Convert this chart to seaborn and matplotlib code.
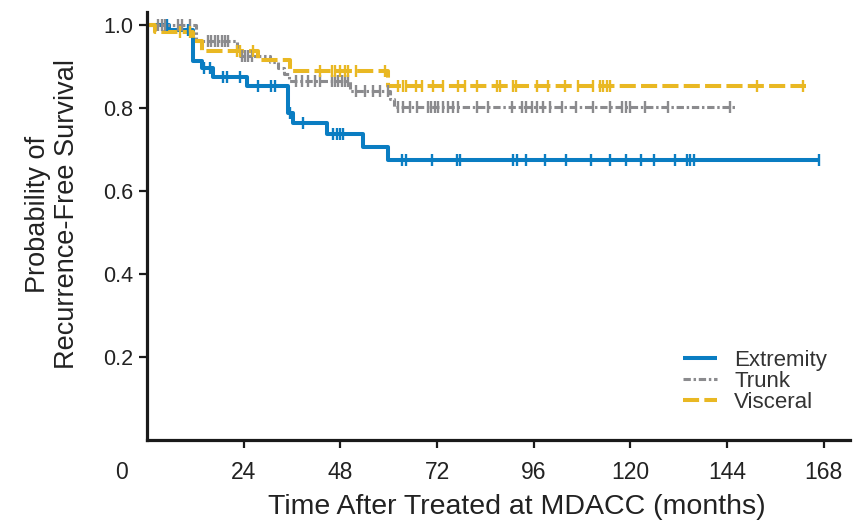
import numpy as np
import pandas as pd
import matplotlib
matplotlib.use("Agg")
import matplotlib.pyplot as plt
import matplotlib.transforms as mtransforms
import seaborn as sns

# ---- data ----
groups = ["Extremity", "Trunk", "Visceral"]

ext_times = [0, 5.5, 11.4, 13.6, 16.5, 24.7, 35.1, 36.3, 44.6, 53.6, 59.8]
ext_surv = [1.0, 0.988, 0.912, 0.896, 0.875, 0.853, 0.788, 0.763, 0.738, 0.706, 0.674]
ext_end = 166.8
ext_cens = [5.0, 10.2, 14.2, 15.6, 18.9, 19.9, 23.1, 27.6, 30.9, 31.8, 35.6, 38.8,
            46.2, 47.1, 47.9, 48.7, 63.4, 64.2, 70.8, 77.0, 77.8, 90.9, 91.9, 94.0,
            98.8, 103.9, 110.1, 114.9, 118.9, 122.7, 125.9, 131.0, 134.1, 134.9,
            135.7, 166.8]

tr_times = [0, 12.2, 22.3, 23.1, 30.5, 32.5, 34.0, 35.3, 50.4, 60.4, 61.2]
tr_surv = [1.0, 0.960, 0.944, 0.925, 0.910, 0.897, 0.882, 0.865, 0.840, 0.822, 0.803]
tr_end = 145.9
tr_cens = [2.8, 3.6, 4.4, 7.8, 8.6, 10.7, 15.2, 16.0, 16.9, 17.7, 18.5, 19.4, 20.2,
           23.5, 24.3, 25.1, 26.0, 37.1, 38.4, 40.0, 41.7, 42.9, 45.8, 46.7, 47.5,
           48.3, 49.1, 49.9, 52.0, 54.1, 56.2, 57.8, 59.9, 62.4, 63.6, 65.3, 66.9,
           69.8, 70.6, 71.5, 72.3, 73.5, 74.8, 76.0, 77.3, 81.8, 84.7, 90.5, 93.0,
           94.2, 95.5, 96.7, 98.3, 100.0, 102.9, 106.6, 110.8, 114.9, 117.8, 119.0,
           119.9, 123.6, 129.4, 144.7]

vi_times = [0, 2.0, 11.5, 13.6, 27.6, 35.5, 59.9]
vi_surv = [1.0, 0.984, 0.962, 0.938, 0.916, 0.888, 0.853]
vi_end = 163.7
vi_cens = [8.2, 10.7, 22.3, 23.1, 26.4, 42.9, 45.8, 46.7, 47.9, 49.1, 49.9, 52.0,
           59.1, 62.4, 63.6, 64.4, 66.7, 68.2, 71.0, 73.5, 77.3, 78.9, 81.8, 86.8,
           87.6, 90.9, 91.7, 96.7, 99.6, 103.7, 107.0, 110.8, 112.4, 113.2, 114.1,
           114.9, 151.3, 162.9]

x_ticks = [0, 24, 48, 72, 96, 120, 144, 168]
y_ticks = [0.2, 0.4, 0.6, 0.8, 1.0]

colors = {"Extremity": "#0a7dc2", "Trunk": "#8b8b8e", "Visceral": "#e9b823"}
series = {
    "Extremity": (ext_times, ext_surv, ext_end, ext_cens),
    "Trunk": (tr_times, tr_surv, tr_end, tr_cens),
    "Visceral": (vi_times, vi_surv, vi_end, vi_cens),
}

# ---- build tables ----
curve_rows, cens_rows = [], []
for g, (t, s, end, c) in series.items():
    tt = list(t) + [end]
    ss = list(s) + [s[-1]]
    for a, b in zip(tt, ss):
        curve_rows.append((g, a, b))
    t_arr = np.asarray(t)
    for ci in c:
        idx = np.searchsorted(t_arr, ci, side="right") - 1
        cens_rows.append((g, ci, s[idx]))
curves = pd.DataFrame(curve_rows, columns=["group", "time", "surv"])
cens = pd.DataFrame(cens_rows, columns=["group", "time", "surv"])

sns.set_style("white")
plt.rcParams["font.family"] = ["Liberation Sans", "DejaVu Sans"]

fig = plt.figure(figsize=(8.59, 5.26), dpi=100)
ax = fig.add_axes([147 / 859, 1 - 440 / 526, (850 - 147) / 859, (440 - 12) / 526])

styles = {
    "Extremity": dict(lw=2.9, linestyle="-"),
    "Trunk": dict(lw=2.2, linestyle=(0, (2.4, 0.9, 0.8, 0.9))),
    "Visceral": dict(lw=2.9, linestyle=(0, (4.0, 1.3))),
}
order_draw = ["Extremity", "Trunk", "Visceral"]
for g in order_draw:
    d = curves[curves.group == g]
    sns.lineplot(data=d, x="time", y="surv", ax=ax, color=colors[g],
                 drawstyle="steps-post", estimator=None, label=g,
                 solid_capstyle="butt", dash_capstyle="butt", **styles[g])
    dc = cens[cens.group == g]
    sns.scatterplot(data=dc, x="time", y="surv", ax=ax, color=colors[g],
                    marker="|", s=80, linewidth=1.7, legend=False, zorder=3)

ax.set_xlim(0, 174.5)
ax.set_ylim(0, 1.031)
ax.set_xticks(x_ticks)
ax.set_xticklabels([str(v) for v in x_ticks])
ax.set_yticks(y_ticks)
ax.set_yticklabels([f"{v:.1f}" for v in y_ticks])

for side in ["top", "right"]:
    ax.spines[side].set_visible(False)
for side in ["left", "bottom"]:
    ax.spines[side].set_linewidth(2.3)
    ax.spines[side].set_color("#1a1a1a")

ax.tick_params(axis="both", which="major", direction="out", length=6, width=1.6,
               color="#1a1a1a", bottom=True, left=True)
ax.tick_params(axis="x", pad=9)
ax.tick_params(axis="y", pad=4)
for lab in ax.get_xticklabels():
    lab.set_fontsize(16.5)
    lab.set_color("#222222")
for lab in ax.get_yticklabels():
    lab.set_fontsize(15.5)
    lab.set_color("#222222")

# the "0" label sits left of the corner, without tick mark
ax.xaxis.get_major_ticks()[0].tick1line.set_visible(False)
zero = ax.get_xticklabels()[0]
zero.set_transform(zero.get_transform() +
                   mtransforms.ScaledTranslation(-25 / 100, 0, fig.dpi_scale_trans))

ax.set_xlabel("Time After Treated at MDACC (months)", fontsize=20.5, color="#222222")
ax.xaxis.set_label_coords((517 - 147) / 703, -(507 - 440) / 428)
ax.xaxis.label.set_va("center")
ax.set_ylabel("Probability of\nRecurrence-Free Survival", fontsize=19.5,
              color="#222222", linespacing=1.15)
ax.yaxis.set_label_coords(-(147 - 53) / 703, (440 - 214) / 428)
ax.yaxis.label.set_va("center")

leg = ax.legend(loc="lower left", bbox_to_anchor=((683 - 147) / 703, (440 - 413) / 428),
                frameon=False, fontsize=16, handlelength=1.55, handletextpad=0.75,
                labelspacing=0.0, borderaxespad=0, borderpad=0)
for t in leg.get_texts():
    t.set_color("#333333")

fig.savefig("out.png", dpi=100)
